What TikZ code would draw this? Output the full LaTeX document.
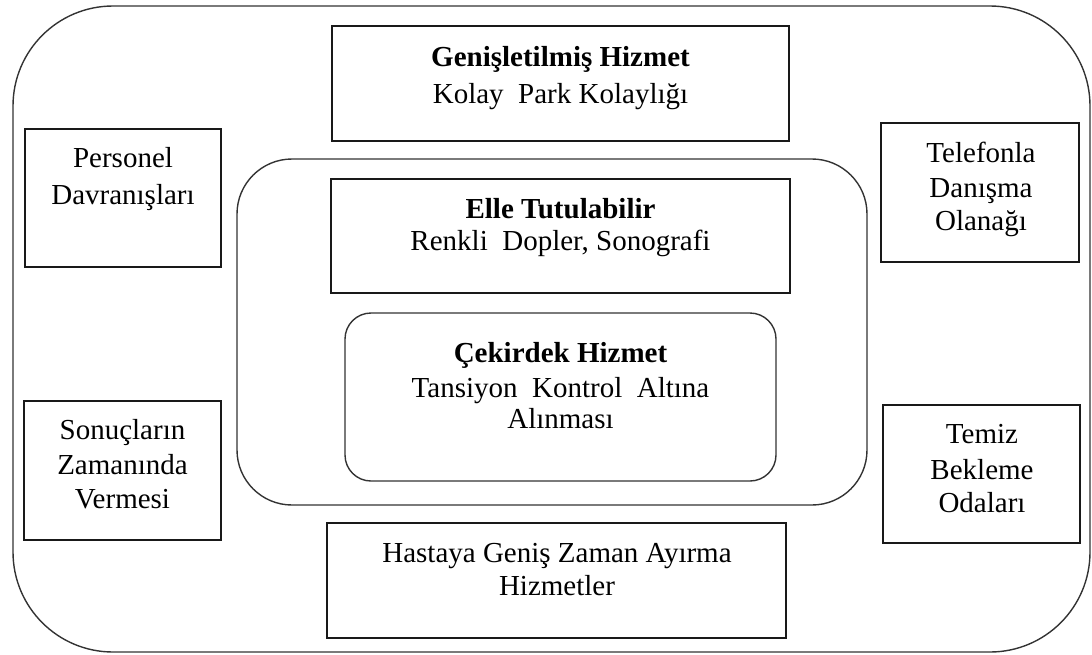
\documentclass[tikz,border=0pt]{standalone}
\usepackage{fontspec}
\setmainfont{Liberation Serif}
\begin{document}
\begin{tikzpicture}[x=1pt,y=-1pt,
  frame/.style={draw=black!80, line width=1.4pt, inner sep=0pt},
  box/.style={draw=black!90, line width=1.4pt, inner sep=0pt},
  txt/.style={align=center, anchor=base, inner sep=0pt,
    font=\fontsize{29pt}{34pt}\selectfont},
]
\useasboundingbox (0,0) rectangle (1092,654);

% outer service layer
\node[frame, rounded corners=100pt, minimum width=1077pt, minimum height=646pt]
  (outer) at (551.5,329) {};
% tangible product layer
\node[frame, rounded corners=55pt, minimum width=630pt, minimum height=346pt]
  (mid) at (552,332) {};
% core service
\node[frame, rounded corners=26pt, minimum width=431pt, minimum height=168pt]
  (core) at (560.5,397) {};

% rectangular boxes
\node[box, minimum width=457pt, minimum height=115pt] (ext)   at (560.5,83.5) {};
\node[box, minimum width=459pt, minimum height=114pt] (tan)   at (560.5,236) {};
\node[box, minimum width=459pt, minimum height=115pt] (bot)   at (556.5,580.5) {};
\node[box, minimum width=196pt, minimum height=138pt] (pers)  at (123,198) {};
\node[box, minimum width=197pt, minimum height=139pt] (sonuc) at (122.5,470.5) {};
\node[box, minimum width=198pt, minimum height=139pt] (tel)   at (980,192.5) {};
\node[box, minimum width=197pt, minimum height=138pt] (temiz) at (981.5,474) {};

% texts (anchored at the baseline of their last line)
\node[txt] (ext-t) at (560.5,103)
  {\textbf{Genişletilmiş Hizmet}\\[3pt]Kolay\ \ Park Kolaylığı};
\node[txt] (tan-t) at (560.5,250)
  {\textbf{Elle Tutulabilir}\\[-2pt]Renkli\ \ Dopler, Sonografi};
\node[txt] (core-t) at (560.5,428)
  {\textbf{Çekirdek Hizmet}\\[1pt]Tansiyon\ \ Kontrol\ \ Altına\\[-3pt]Alınması};
\node[txt] (bot-t) at (557,595)
  {Hastaya Geniş Zaman Ayırma\\[-1pt]Hizmetler};
\node[txt] (pers-t) at (123,204)
  {Personel\\[3pt]Davranışları};
\node[txt] (sonuc-t) at (122.5,508)
  {Sonuçların\\[1pt]Zamanında\\Vermesi};
\node[txt] (tel-t) at (981,230)
  {Telefonla\\[1pt]Danışma\\[-1pt]Olanağı};
\node[txt] (temiz-t) at (982,512)
  {Temiz\\[2pt]Bekleme\\[-1pt]Odaları};
\end{tikzpicture}
\end{document}
